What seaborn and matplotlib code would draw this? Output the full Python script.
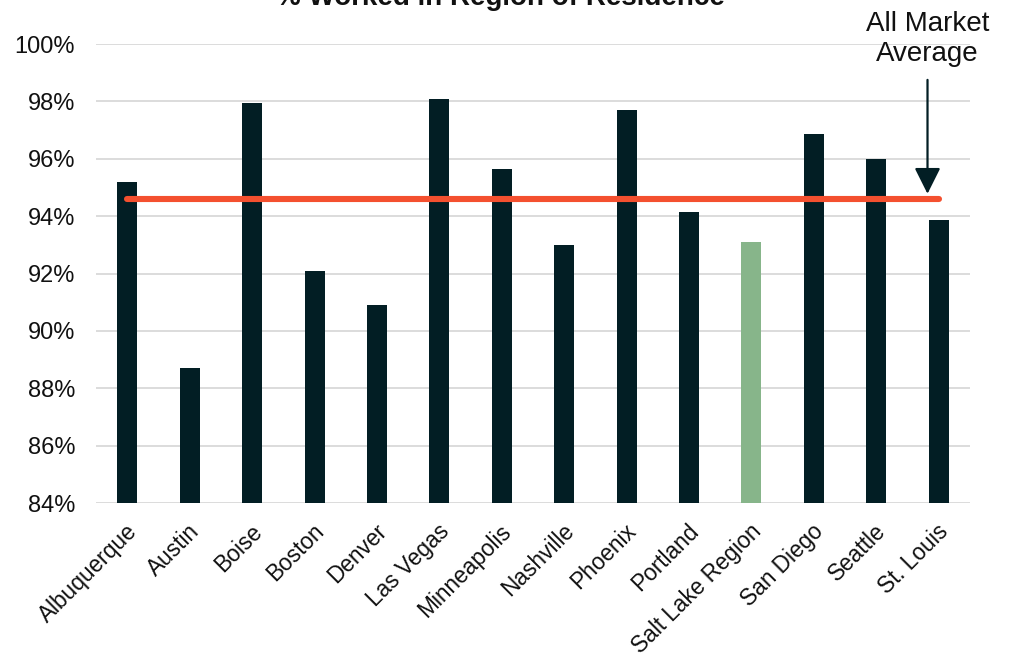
import matplotlib
matplotlib.use("Agg")
import matplotlib.pyplot as plt
import matplotlib.transforms as mtransforms
import seaborn as sns
import pandas as pd
from matplotlib.ticker import FuncFormatter

# Share of workers employed in their own region of residence (%)
regions = ["Albuquerque", "Austin", "Boise", "Boston", "Denver", "Las Vegas",
           "Minneapolis", "Nashville", "Phoenix", "Portland", "Salt Lake Region",
           "San Diego", "Seattle", "St. Louis"]
pct_worked_in_region = [95.2, 88.7, 97.95, 92.1, 90.9, 98.1,
                        95.65, 93.0, 97.7, 94.15, 93.1,
                        96.85, 96.0, 93.85]
all_market_average = 94.6
highlight = "Salt Lake Region"

y_ticks = [84, 86, 88, 90, 92, 94, 96, 98, 100]

DARK = "#021E24"
GREEN = "#87B58A"
RED = "#F4502F"
GRID = "#D9D9D9"

sns.set_theme(style="white")
plt.rcParams["font.family"] = ["Liberation Sans", "DejaVu Sans"]

df = pd.DataFrame({"region": regions, "pct": pct_worked_in_region})
palette = {r: (GREEN if r == highlight else DARK) for r in regions}

fig = plt.figure(figsize=(10.11, 6.61), dpi=100)
ax = fig.add_axes([0.095, 0.239, 0.8644, 0.6944])

ax.set_ylim(y_ticks[0], y_ticks[-1])
ax.set_yticks(y_ticks)
for t in y_ticks:
    ax.axhline(t, color=GRID, lw=1.3, zorder=0)

sns.barplot(data=df, x="region", y="pct", hue="region", palette=palette,
            legend=False, width=0.32, saturation=1, ax=ax, zorder=2,
            edgecolor="none")
ax.set_ylim(y_ticks[0], y_ticks[-1])
ax.set_xlim(-0.5, len(regions) - 0.5)

# average line across all markets
ax.plot([0, len(regions) - 1], [all_market_average, all_market_average],
        color=RED, lw=4.4, solid_capstyle="round", zorder=3)

# callout
arrow_x = len(regions) - 1 - 0.18
ax.annotate("", xy=(arrow_x, all_market_average + 0.18),
            xytext=(arrow_x, 98.75),
            arrowprops=dict(arrowstyle="-|>,head_length=0.8,head_width=0.4",
                            mutation_scale=20, color=DARK, lw=1.6,
                            shrinkA=0, shrinkB=0),
            annotation_clip=False, zorder=4)
ax.text(arrow_x, 99.2, "All Market\nAverage", ha="center", va="bottom",
        fontsize=20, color="#111111", linespacing=1.2, clip_on=False)

ax.yaxis.set_major_formatter(FuncFormatter(lambda v, _: f"{v:.0f}%"))
ax.tick_params(axis="y", length=0, pad=15, labelsize=17, labelcolor="#111111")
ax.tick_params(axis="x", length=0, pad=12, labelsize=16.3, labelcolor="#111111")
shift = mtransforms.ScaledTranslation(-2 / 100, 0, fig.dpi_scale_trans)
for lbl in ax.get_xticklabels():
    lbl.set_rotation(45)
    lbl.set_ha("right")
    lbl.set_va("top")
    lbl.set_rotation_mode("anchor")
    lbl.set_transform(lbl.get_transform() + shift)
ax.set_xlabel("")
ax.set_ylabel("")
for s in ax.spines.values():
    s.set_visible(False)

fig.text(0.495, 1 - 5 / 661, "% Worked in Region of Residence",
         ha="center", va="baseline", fontsize=20, fontweight="bold",
         color="#111111")

fig.savefig("out.png", dpi=100, facecolor="white")
